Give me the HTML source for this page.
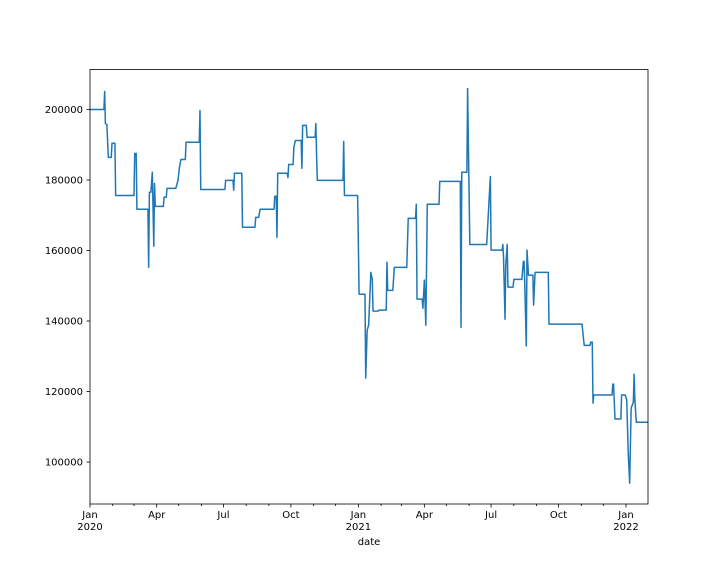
<!DOCTYPE html>
<html><head><meta charset="utf-8"><style>
body{margin:0;background:#fff}
svg{display:block;font-family:"DejaVu Sans","Liberation Sans",sans-serif}
</style></head><body>
<svg id="chart" width="720" height="576" viewBox="0 0 720 576" xmlns="http://www.w3.org/2000/svg">
<rect x="0" y="0" width="720" height="576" fill="#fff"/>
<g id="grid"></g>
<path id="series" fill="none" stroke="#1f77b4" stroke-width="1.5" stroke-linejoin="round"/>
<rect x="90" y="69.5" width="558" height="434.5" fill="none" stroke="#000" stroke-width="0.8"/>
<g id="axes"></g>
<text x="369" y="545" text-anchor="middle" font-size="10">date</text>
</svg>
<script>
// data: days since 2020-01-01, values
const days = [0,19,20,21,23,25,29,30,34,35,60,61,63,64,79,80,81,83,85,87,88,89,100,101,104,105,117,120,122,124,130,131,149,150,151,184,185,195,196,197,207,208,225,226,230,232,251,252,254,255,256,269,270,271,277,278,280,288,289,290,295,296,307,308,309,310,345,346,347,365,367,375,376,378,380,383,385,386,393,394,404,405,406,413,415,432,434,444,445,446,453,454,456,458,460,476,477,505,506,507,514,515,518,541,546,547,562,563,564,566,567,569,570,577,578,589,591,592,593,595,596,598,604,605,607,625,626,671,674,682,683,685,686,687,712,713,714,716,724,725,730,732,734,736,738,741,742,743,745,761];
const values = [200000,200000,205100,196000,195800,186400,186400,190400,190400,175600,175600,187500,187500,171700,171700,155200,176500,176500,182200,161200,179000,172500,172500,175100,175100,177600,177600,179900,183600,185800,185800,190700,190700,199700,177300,177300,179900,179900,177100,181900,181900,166600,166600,169400,169400,171700,171700,175400,175400,163700,181900,181900,180700,184400,184400,189200,191200,191200,183300,195500,195500,192100,192100,196000,187300,179900,179900,190900,175600,175600,147600,147600,123800,137400,138800,153800,151800,142800,142800,143100,143100,156700,148700,148700,155200,155200,169100,169100,173100,146200,146200,143600,151600,138800,173100,173100,179600,179600,138200,182200,182200,205900,161700,161700,181000,160100,160100,161700,158000,140500,155800,161700,149600,149600,151800,151800,156900,156900,150000,132900,160100,153000,153000,144500,153800,153800,139100,139100,133100,133100,134000,134000,116700,119000,119000,122100,122100,112200,112200,119000,119000,117600,102800,94000,115300,117000,124900,118100,111300,111300];
const yTicks = [100000,120000,140000,160000,180000,200000];
const xMajorLabels = [["Jan","2020"],["Apr",""],["Jul",""],["Oct",""],["Jan","2021"],["Apr",""],["Jul",""],["Oct",""],["Jan","2022"]];

const X0=90,X1=648,D0=0,D1=761;
const Y0=504,Y1=69.5,V0=88100,V1=211330;
const xs=d=>X0+(d-D0)/(D1-D0)*(X1-X0);
const ys=v=>Y0-(v-V0)/(V1-V0)*(Y0-Y1);
const NS="http://www.w3.org/2000/svg";
const axes=document.getElementById('axes');
let dstr="";
for(let i=0;i<days.length;i++){dstr+=(i?"L":"M")+xs(days[i]).toFixed(2)+","+ys(values[i]).toFixed(2);}
document.getElementById('series').setAttribute('d',dstr);
function line(x1,y1,x2,y2,name){const l=document.createElementNS(NS,'line');
l.setAttribute('x1',x1);l.setAttribute('y1',y1);l.setAttribute('x2',x2);l.setAttribute('y2',y2);
l.setAttribute('stroke','#000');l.setAttribute('stroke-width','0.8');


axes.appendChild(l);}
function text(x,y,s,anchor,name){const t=document.createElementNS(NS,'text');
t.setAttribute('x',x);t.setAttribute('y',y);t.setAttribute('font-size','10');t.setAttribute('text-anchor',anchor);t.textContent=s;


axes.appendChild(t);}
yTicks.forEach(v=>{const y=ys(v);line(86.5,y,90,y,'y-tick');text(83,y+3.5,String(v),'end','y-tick-label');});
const base=Date.UTC(2020,0,1);
let mi=0;
for(let m=0;m<26;m++){const dd=(Date.UTC(2020,m,1)-base)/864e5;if(dd>D1)break;const x=xs(dd);
 if(m%3===0){line(x,504,x,507.5,'x-major-tick');const lb=xMajorLabels[mi++];if(lb){text(x,518,lb[0],'middle','x-tick-label');if(lb[1])text(x,530,lb[1],'middle','x-tick-year-label');}}
 else line(x,504,x,506,'x-minor-tick');}
</script>
</body></html>
